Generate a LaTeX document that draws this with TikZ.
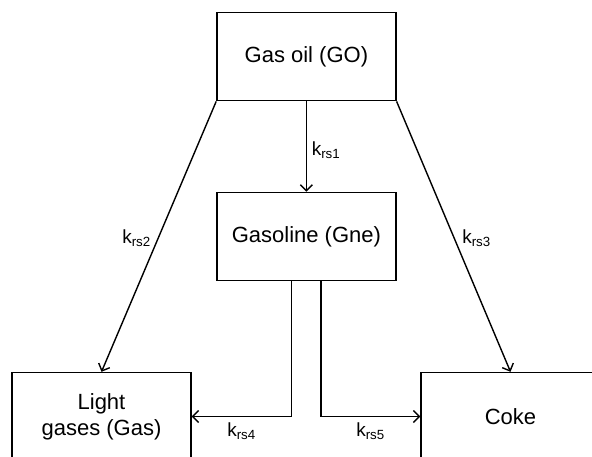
\documentclass[tikz,border=0pt]{standalone}
\usepackage{fontspec}
\setmainfont{Liberation Sans}
\usetikzlibrary{arrows,arrows.meta}

\tikzset{
  box/.style={draw, line width=1.4pt, minimum width=179pt, minimum height=88pt,
    inner sep=0pt, align=center, font=\fontsize{22}{26}\selectfont},
  rate/.style={inner sep=0pt, font=\fontsize{19}{22}\selectfont},
  flow/.style={line width=1.4pt, -{Straight Barb[length=6pt,width=12pt]}}
}

\begin{document}
\begin{tikzpicture}[x=1pt, y=-1pt]
  \clip (0,0) rectangle (592,456);

  \node[box] (go) at (306.4,56.7) {Gas oil (GO)};
  \node[box] (gne) at (306.4,236.4) {Gasoline (Gne)};
  \node[box] (gas) at (101.5,416.5) {Light\\gases (Gas)};
  \node[box] (coke) at (510.5,416.5) {Coke};

  \draw[flow] (go) -- (gne);
  \draw[flow] (go.south west) -- (gas.north);
  \draw[flow] (go.south east) -- (coke.north);
  \draw[flow] ([xshift=-15pt]gne.south) |- (gas.east);
  \draw[flow] ([xshift=14.5pt]gne.south) |- (coke.west);

  \node[rate] (k1) at (326,150) {k\textsubscript{rs1}};
  \node[rate] (k2) at (136.5,238) {k\textsubscript{rs2}};
  \node[rate] (k3) at (476.5,238) {k\textsubscript{rs3}};
  \node[rate] (k4) at (241.5,431) {k\textsubscript{rs4}};
  \node[rate] (k5) at (370.5,431) {k\textsubscript{rs5}};
\end{tikzpicture}
\end{document}
